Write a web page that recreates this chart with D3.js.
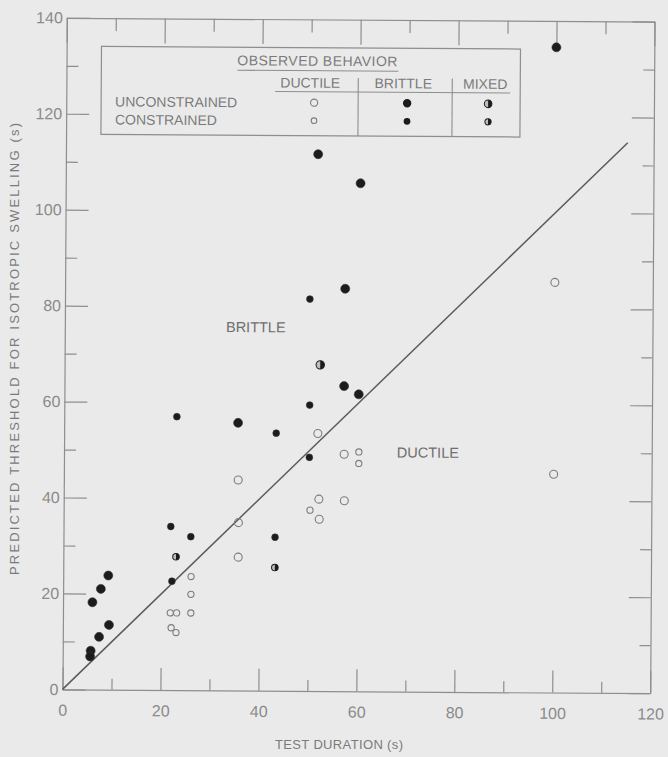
<!DOCTYPE html>
<html>
<head>
<meta charset="utf-8">
<script src="https://cdn.jsdelivr.net/npm/d3@7"></script>
<style>
  html, body { margin: 0; padding: 0; background: #eaeaea; }
  svg { display: block; }
</style>
</head>
<body>
<svg id="chart" width="668" height="757"></svg>
<script>
// ---- tick values ----
const xMajor = [0, 20, 40, 60, 80, 100, 120];
const xMinor = [10, 30, 50, 70, 90, 110];
const yMajor = [0, 20, 40, 60, 80, 100, 120, 140];
const yMinor = [10, 30, 50, 70, 90, 110, 130];

// ---- data: [test duration (s), predicted threshold (s)] ----
const unconstrainedDuctile = [
  [100, 85.5], [100, 45.5], [35.6, 43.9], [51.8, 53.7], [57.2, 49.4],
  [52.1, 40.0], [57.3, 39.7], [52.2, 35.8], [35.7, 35.0], [35.7, 27.8]
];
const constrainedDuctile = [
  [60.2, 49.9], [60.2, 47.5], [50.3, 37.7],
  [26.1, 23.7], [26.1, 20.0], [26.1, 16.1], [21.9, 16.1], [23.2, 16.1],
  [22.1, 13.0], [23.1, 12.0]
];
const unconstrainedBrittle = [
  [100, 134.5], [51.5, 111.9], [60.2, 105.9], [57.2, 83.9], [57.1, 63.6],
  [60.1, 61.9], [35.5, 55.8], [6.0, 18.2], [7.7, 21.0], [9.2, 23.8],
  [9.4, 13.5], [7.4, 11.0], [5.7, 8.1], [5.6, 6.9]
];
const constrainedBrittle = [
  [50.0, 81.7], [50.1, 59.6], [43.3, 53.7], [23.0, 57.0], [50.1, 48.7],
  [21.9, 34.1], [26.0, 32.0], [43.2, 32.0], [22.2, 22.7]
];
const unconstrainedMixed = [[52.2, 68.0]];
const constrainedMixed = [[43.2, 25.7], [23.0, 27.8]];

// boundary between regions: threshold equals test duration
const boundary = [[0, 0], [114.7, 114.7]];

// region labels
const regionLabels = [
  { text: "BRITTLE", at: [39.0, 75.8] },
  { text: "DUCTILE", at: [74.3, 49.9] }
];

// legend text
const legendTitle = "OBSERVED BEHAVIOR";
const legendColumns = ["DUCTILE", "BRITTLE", "MIXED"];
const legendRows = ["UNCONSTRAINED", "CONSTRAINED"];

// ---- styling ----
const FONT = "'Liberation Sans', Arial, sans-serif";
const INK = "#1c1c1c";
const LINE = "#8e8e8e";
const TEXT = "#7a7a7a";
const BG = "#eaeaea";

const svg = d3.select("#chart");
svg.append("rect").attr("width", 668).attr("height", 757).attr("fill", BG);

// the whole drawing sits very slightly turned
const plot = svg.append("g").attr("transform", "rotate(0.37, 358.5, 355.5)");

const x = d3.scaleLinear().domain([0, 120]).range([64.65, 652.35]);
const y = d3.scaleLinear().domain([0, 140]).range([691.3, 19.7]);

function styleAxis(g) {
  g.selectAll("path.domain").attr("stroke", LINE).attr("stroke-width", 1.2);
  g.selectAll(".tick line").attr("stroke", LINE).attr("stroke-width", 1.2);
  g.selectAll(".tick text").attr("fill", "#8a8a8a")
    .attr("font-family", FONT).attr("font-size", 16);
}

// bottom axis
plot.append("g").attr("transform", `translate(0,${y(0)})`)
  .call(d3.axisBottom(x).tickValues(xMajor).tickSizeInner(-22).tickSizeOuter(0)
    .tickPadding(15).tickFormat(d3.format("d")))
  .call(styleAxis);
plot.append("g").attr("transform", `translate(0,${y(0)})`)
  .call(d3.axisBottom(x).tickValues(xMinor).tickSizeInner(-11).tickSizeOuter(0).tickFormat(""))
  .call(g => g.select(".domain").remove())
  .call(styleAxis);

// top axis
plot.append("g").attr("transform", `translate(0,${y(140)})`)
  .call(d3.axisTop(x).tickValues(xMajor).tickSizeInner(-25).tickSizeOuter(0).tickFormat(""))
  .call(styleAxis);
plot.append("g").attr("transform", `translate(0,${y(140)})`)
  .call(d3.axisTop(x).tickValues(xMinor).tickSizeInner(-13).tickSizeOuter(0).tickFormat(""))
  .call(g => g.select(".domain").remove())
  .call(styleAxis);

// left axis
plot.append("g").attr("transform", `translate(${x(0)},0)`)
  .call(d3.axisLeft(y).tickValues(yMajor).tickSizeInner(-23).tickSizeOuter(0)
    .tickPadding(4).tickFormat(d3.format("d")))
  .call(styleAxis);
plot.append("g").attr("transform", `translate(${x(0)},0)`)
  .call(d3.axisLeft(y).tickValues(yMinor).tickSizeInner(-12).tickSizeOuter(0).tickFormat(""))
  .call(g => g.select(".domain").remove())
  .call(styleAxis);

// right axis
plot.append("g").attr("transform", `translate(${x(120)},0)`)
  .call(d3.axisRight(y).tickValues(yMajor).tickSizeInner(-22).tickSizeOuter(0).tickFormat(""))
  .call(styleAxis);
plot.append("g").attr("transform", `translate(${x(120)},0)`)
  .call(d3.axisRight(y).tickValues(yMinor).tickSizeInner(-11).tickSizeOuter(0).tickFormat(""))
  .call(g => g.select(".domain").remove())
  .call(styleAxis);

// axis titles
svg.append("text")
  .attr("x", 339).attr("y", 749)
  .attr("text-anchor", "middle")
  .attr("font-family", FONT).attr("font-size", 13).attr("fill", TEXT)
  .attr("textLength", 128).attr("lengthAdjust", "spacing")
  .text("TEST DURATION (s)");

svg.append("text")
  .attr("transform", "translate(19,349) rotate(-90)")
  .attr("text-anchor", "middle")
  .attr("font-family", FONT).attr("font-size", 13).attr("fill", TEXT)
  .attr("textLength", 452).attr("lengthAdjust", "spacing")
  .text("PREDICTED THRESHOLD FOR ISOTROPIC SWELLING (s)");

// boundary line
plot.append("path")
  .datum(boundary)
  .attr("d", d3.line().x(d => x(d[0])).y(d => y(d[1])))
  .attr("fill", "none").attr("stroke", "#5a5a5a").attr("stroke-width", 1.5);

// region labels
plot.selectAll("text.region").data(regionLabels).join("text")
  .attr("class", "region")
  .attr("x", d => x(d.at[0])).attr("y", d => y(d.at[1]))
  .attr("dy", "0.36em")
  .attr("text-anchor", "middle")
  .attr("font-family", FONT).attr("font-size", 14.5).attr("fill", "#6e6e6e")
  .text(d => d.text);

// ---- markers ----
function openMarks(g, data, r) {
  g.selectAll(null).data(data).join("circle")
    .attr("cx", d => x(d[0])).attr("cy", d => y(d[1])).attr("r", r)
    .attr("fill", "none").attr("stroke", "#7d7d7d").attr("stroke-width", 1.1);
}
function filledMarks(g, data, r) {
  g.selectAll(null).data(data).join("circle")
    .attr("cx", d => x(d[0])).attr("cy", d => y(d[1])).attr("r", r)
    .attr("fill", INK).attr("stroke", "#333").attr("stroke-width", 0.6);
}
function mixedMark(sel, r) {
  sel.append("circle").attr("r", r)
    .attr("fill", "#bdbdbd").attr("stroke", INK).attr("stroke-width", 1);
  sel.append("path")
    .attr("d", `M0,${-r}A${r},${r} 0 0 1 0,${r}Z`)
    .attr("fill", INK);
}
function mixedMarks(g, data, r) {
  g.selectAll(null).data(data).join("g")
    .attr("transform", d => `translate(${x(d[0])},${y(d[1])})`)
    .each(function () { mixedMark(d3.select(this), r); });
}

const marks = plot.append("g");
openMarks(marks, unconstrainedDuctile, 4.0);
openMarks(marks, constrainedDuctile, 3.1);
filledMarks(marks, unconstrainedBrittle, 4.5);
filledMarks(marks, constrainedBrittle, 3.4);
mixedMarks(marks, unconstrainedMixed, 4.2);
mixedMarks(marks, constrainedMixed, 3.3);

// ---- legend table ----
const lg = plot.append("g").attr("font-family", FONT).attr("fill", TEXT);
const box = { x: 99.5, y: 48, w: 419, h: 88 };
lg.append("rect")
  .attr("x", box.x).attr("y", box.y).attr("width", box.w).attr("height", box.h)
  .attr("fill", "none").attr("stroke", LINE).attr("stroke-width", 1.2);

lg.append("text")
  .attr("x", 315.5).attr("y", 66).attr("text-anchor", "middle")
  .attr("font-size", 14).attr("fill", TEXT)
  .attr("textLength", 160).attr("lengthAdjust", "spacing")
  .text(legendTitle);
lg.append("line").attr("x1", 235.5).attr("x2", 396.5).attr("y1", 71).attr("y2", 71)
  .attr("stroke", LINE).attr("stroke-width", 1.1);

const colX = [308.5, 401.5, 483.5];
const symX = [312.5, 405.5, 486.5];
const rowY = [103, 121];

lg.selectAll("text.col").data(legendColumns).join("text")
  .attr("class", "col")
  .attr("x", (d, i) => colX[i]).attr("y", 88).attr("text-anchor", "middle")
  .attr("font-size", 14).attr("fill", TEXT)
  .text(d => d);
lg.append("line").attr("x1", 273.5).attr("x2", 508.5).attr("y1", 92).attr("y2", 92)
  .attr("stroke", LINE).attr("stroke-width", 1.1);
[356.5, 450.5].forEach(v => {
  lg.append("line").attr("x1", v).attr("x2", v).attr("y1", 78).attr("y2", box.y + box.h)
    .attr("stroke", LINE).attr("stroke-width", 1.1);
});

lg.selectAll("text.row").data(legendRows).join("text")
  .attr("class", "row")
  .attr("x", 113.5).attr("y", (d, i) => rowY[i]).attr("dy", "0.36em")
  .attr("font-size", 14).attr("fill", TEXT)
  .text(d => d);

// legend symbols
const ls = lg.append("g");
ls.append("circle").attr("cx", symX[0]).attr("cy", rowY[0]).attr("r", 3.6)
  .attr("fill", "none").attr("stroke", "#7d7d7d").attr("stroke-width", 1.1);
ls.append("circle").attr("cx", symX[0]).attr("cy", rowY[1]).attr("r", 2.8)
  .attr("fill", "none").attr("stroke", "#7d7d7d").attr("stroke-width", 1.1);
ls.append("circle").attr("cx", symX[1]).attr("cy", rowY[0]).attr("r", 4.2).attr("fill", INK);
ls.append("circle").attr("cx", symX[1]).attr("cy", rowY[1]).attr("r", 3.4).attr("fill", INK);
mixedMark(ls.append("g").attr("transform", `translate(${symX[2]},${rowY[0]})`), 3.8);
mixedMark(ls.append("g").attr("transform", `translate(${symX[2]},${rowY[1]})`), 3.1);
</script>
</body>
</html>
